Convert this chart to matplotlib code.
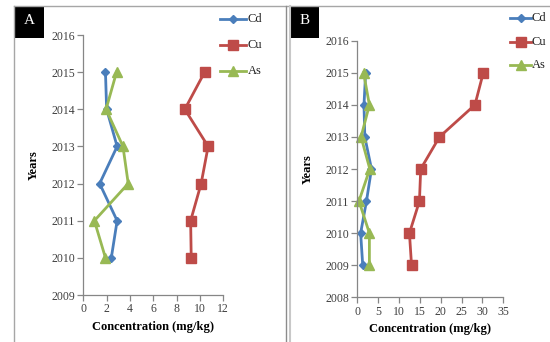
import matplotlib
matplotlib.use("Agg")
import matplotlib.pyplot as plt
from matplotlib.lines import Line2D
from matplotlib.patches import Rectangle

# Panel A data
years_a = [2015, 2014, 2013, 2012, 2011, 2010]
cd_a = [1.9, 2.0, 2.9, 1.4, 2.9, 2.4]
cu_a = [10.4, 8.7, 10.7, 10.1, 9.2, 9.25]
as_a = [2.85, 1.95, 3.4, 3.85, 0.95, 1.9]

# Panel B data
years_b = [2015, 2014, 2013, 2012, 2011, 2010, 2009]
cd_b = [2.0, 1.6, 1.8, 3.4, 2.2, 0.8, 1.3]
cu_b = [30.2, 28.2, 19.7, 15.2, 14.9, 12.5, 13.0]
as_b = [1.5, 2.9, 0.9, 3.0, 0.4, 2.9, 2.9]

series_names = ["Cd", "Cu", "As"]
xticks_a = [0, 2, 4, 6, 8, 10, 12]
xticks_b = [0, 5, 10, 15, 20, 25, 30, 35]
yticks_a = list(range(2009, 2017))
yticks_b = list(range(2008, 2017))

colors = ["#4A7EBB", "#BE4B48", "#98B954"]
markers = ["D", "s", "^"]
msizes = [4.5, 7.5, 7]

W, H = 550, 342
fig = plt.figure(figsize=(5.5, 3.42), dpi=100)
plt.rcParams['font.family'] = ['Liberation Serif', 'DejaVu Serif']

def fx(px):
    return px / W

def fy(py):
    return 1 - py / H

def make_axes(l, r, t, b):
    return fig.add_axes([fx(l), fy(b), fx(r) - fx(l), fy(t) - fy(b)])

def style(ax, xt, yt, xlim, ylim):
    ax.set_xlim(*xlim)
    ax.set_ylim(*ylim)
    ax.set_xticks(xt)
    ax.set_yticks(yt)
    for s in ["top", "right"]:
        ax.spines[s].set_visible(False)
    for s in ["left", "bottom"]:
        ax.spines[s].set_color("#868686")
        ax.spines[s].set_linewidth(0.9)
    ax.tick_params(axis="both", direction="out", length=4, width=0.9,
                   color="#868686", labelsize=8.5, labelcolor="#404040", pad=2)
    ax.set_xlabel("Concentration (mg/kg)", fontsize=9, fontweight="bold", labelpad=4)
    ax.set_ylabel("Years", fontsize=9, fontweight="bold", labelpad=8)
    ax.patch.set_alpha(0)

axA = make_axes(83.3, 223.3, 35, 295)
for vals, c, m, ms, n in zip([cd_a, cu_a, as_a], colors, markers, msizes, series_names):
    axA.plot(vals, years_a, color=c, marker=m, markersize=ms, linewidth=2, label=n,
             clip_on=False)
style(axA, xticks_a, yticks_a, (0, 12), (2009, 2016))

axB = make_axes(357.3, 503.3, 40.7, 297.3)
for vals, c, m, ms, n in zip([cd_b, cu_b, as_b], colors, markers, msizes, series_names):
    axB.plot(vals, years_b, color=c, marker=m, markersize=ms, linewidth=2, label=n,
             clip_on=False)
style(axB, xticks_b, yticks_b, (0, 35), (2008, 2016))

# legends drawn manually at reference positions
def legend(x0, x1, ys, tx):
    for c, m, ms, n, y in zip(colors, markers, msizes, series_names, ys):
        fig.lines.append(Line2D([fx(x0), fx(x1)], [fy(y), fy(y)], color=c, linewidth=2,
                                transform=fig.transFigure))
        fig.lines.append(Line2D([fx((x0 + x1) / 2)], [fy(y)], color=c, marker=m,
                                markersize=ms, linestyle="none", transform=fig.transFigure))
        fig.text(fx(tx), fy(y), n, fontsize=9, va="center", ha="left", color="#202020")

legend(220, 246, [19, 45, 71], 247.5)
legend(510, 531, [18, 42, 65], 532)

# frame lines
gray = "#A6A6A6"
def hline(x0, x1, y, c=gray, lw=1):
    fig.lines.append(Line2D([fx(x0), fx(x1)], [fy(y), fy(y)], color=c, linewidth=lw,
                            transform=fig.transFigure))

def vline(x, y0, y1, c=gray, lw=1):
    fig.lines.append(Line2D([fx(x), fx(x)], [fy(y0), fy(y1)], color=c, linewidth=lw,
                            transform=fig.transFigure))

hline(14, 550, 6.2)
vline(14, 6, 342)
vline(285.7, 6, 342, c="#8C8C8C")
vline(289.5, 6, 342, c="#C8C8C8", lw=1.5)

# label boxes
for (x0, x1, lab) in [(14, 44, "A"), (290, 319, "B")]:
    fig.patches.append(Rectangle((fx(x0), fy(38)), fx(x1) - fx(x0), fy(6) - fy(38),
                                 facecolor="black", edgecolor="none",
                                 transform=fig.transFigure))
    fig.text(fx((x0 + x1) / 2), fy(21), lab, color="white", fontsize=11,
             ha="center", va="center")

fig.savefig("out.png", dpi=100)
